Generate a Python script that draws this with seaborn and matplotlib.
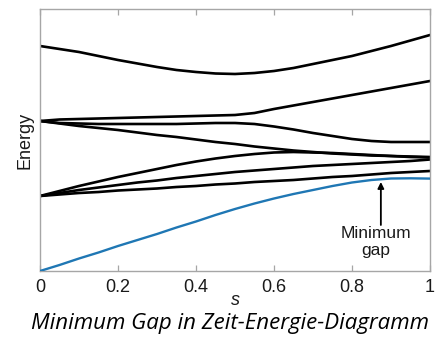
import matplotlib
matplotlib.use("Agg")
import matplotlib.pyplot as plt
import seaborn as sns
import pandas as pd

# ---- data (energy in arbitrary units) ----
s_values = [0.00, 0.05, 0.10, 0.15, 0.20, 0.25, 0.30, 0.35, 0.40, 0.45, 0.50,
            0.55, 0.60, 0.65, 0.70, 0.75, 0.80, 0.85, 0.90, 0.95, 1.00]

level_1 = [225, 222, 219, 215, 211, 207.5, 204, 201, 199, 197.5, 197,
           198, 200, 203, 207, 211, 215, 220, 225, 230.5, 236]
level_2 = [150, 151.5, 152, 152.5, 153, 153.5, 154, 154.5, 155, 155.5, 156,
           158, 162, 165.5, 169, 172.5, 176, 179.5, 183, 186.5, 190]
level_3 = [150, 148, 147.5, 147, 147, 147, 147, 147, 147.5, 148, 148,
           147, 144.5, 141.5, 138, 135, 132, 130, 129, 129, 129]
level_4 = [150, 147.5, 145, 143, 141, 138.5, 136, 134, 131.5, 129, 127,
           124.5, 122.5, 120.5, 119, 117.5, 116.5, 115.5, 115, 114.5, 114]
level_5 = [75, 80, 85, 89.5, 94, 98, 102, 106, 109.5, 112.5, 115,
           117, 118.5, 119, 118.5, 118, 117, 116, 115, 114, 113.5]
level_6 = [75, 78, 81, 83.5, 86, 88.5, 90.5, 93, 95, 97, 99,
           100.5, 102, 103.5, 105, 106, 107, 108, 109, 110, 111.5]
level_7 = [75, 76.5, 78, 79, 80.5, 81.5, 82.5, 84, 85, 86.5, 87.5,
           89, 90, 91, 92.5, 94, 95, 96.5, 98, 99, 100]
ground = [0, 6, 12.5, 18.5, 25, 31, 37, 43.5, 49.5, 56, 62,
          67.5, 72.5, 77, 81, 85, 88.5, 91, 92.5, 92.7, 92.4]

x_ticks = [0, 0.2, 0.4, 0.6, 0.8, 1]
x_tick_labels = ["0", "0.2", "0.4", "0.6", "0.8", "1"]

gap_s = 0.874
gap_tip = 89
gap_tail = 46

series = {"E1": level_1, "E2": level_2, "E3": level_3, "E4": level_4,
          "E5": level_5, "E6": level_6, "E7": level_7, "E0": ground}

rows = []
for name, vals in series.items():
    for s, e in zip(s_values, vals):
        rows.append({"s": s, "Energy": e, "level": name})
df = pd.DataFrame(rows)

palette = {k: "black" for k in series}
palette["E0"] = "#1f77b4"

# ---- figure ----
sns.set_theme(style="white")
plt.rcParams["font.family"] = ["Liberation Sans", "DejaVu Sans"]

fig = plt.figure(figsize=(4.43, 3.38), dpi=100)
ax = fig.add_axes([40 / 443, 1 - 271 / 338, 390 / 443, 262 / 338])

sns.lineplot(data=df, x="s", y="Energy", hue="level", palette=palette,
             linewidth=1.9, legend=False, ax=ax, sort=False, estimator=None)
for line in ax.lines:
    if line.get_color() != "black":
        line.set_zorder(3)
        line.set_linewidth(1.7)

ax.set_xlim(0, 1)
ax.set_ylim(0, 262)
ax.set_xticks(x_ticks)
ax.set_xticklabels(x_tick_labels)
ax.set_yticks([])

for sp in ax.spines.values():
    sp.set_color("#a6a6a6")
    sp.set_linewidth(1.0)
    sp.set_visible(True)

ax.tick_params(axis="x", direction="in", top=True, bottom=True, length=4,
               width=0.9, color="#a6a6a6", labelsize=13, labelcolor="#1a1a1a",
               pad=6)

ax.set_xlabel("s", fontsize=13, fontstyle="italic", labelpad=-3, color="#1a1a1a")
ax.set_ylabel("Energy", fontsize=13, labelpad=5, color="#1a1a1a")

ax.annotate("", xy=(gap_s, gap_tip), xytext=(gap_s, gap_tail),
            arrowprops=dict(arrowstyle="-|>", color="black", lw=1.3,
                            mutation_scale=9, shrinkA=0, shrinkB=0))
ax.text(0.862, 29, "Minimum\ngap", ha="center", va="center", fontsize=12.5,
        color="#1a1a1a", linespacing=1.1)

fig.text(230 / 443, 1 - 324 / 338, "Minimum Gap in Zeit-Energie-Diagramm",
         ha="center", va="center", fontsize=16, fontstyle="italic",
         family=["Open Sans", "DejaVu Sans"], color="black")

fig.savefig("out.png", dpi=100)
